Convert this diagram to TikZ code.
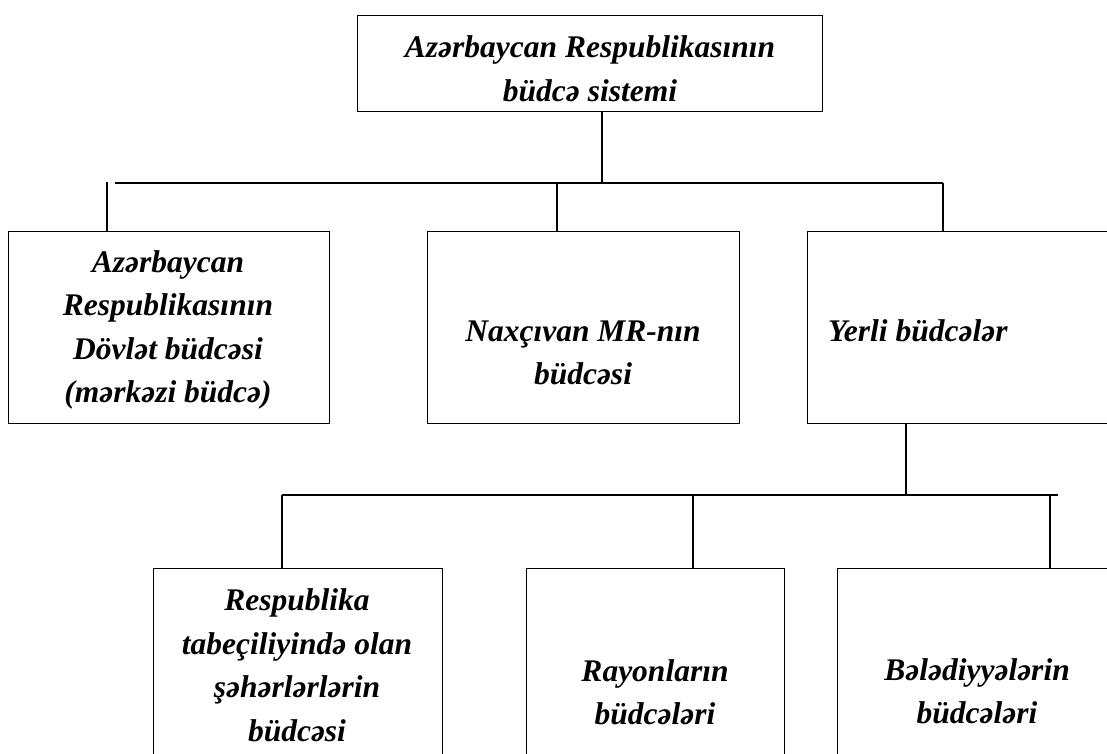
\documentclass[tikz,border=0pt]{standalone}
\usepackage{fontspec}
\setmainfont{Liberation Serif}[BoldItalicFont={Liberation Serif Bold Italic}]
\begin{document}
\begin{tikzpicture}[x=1pt,y=-1pt,
  box/.style={draw, line width=1.4pt, inner sep=0pt, anchor=north west},
  lbl/.style={font=\fontsize{31.5}{43.5}\selectfont\bfseries\itshape, align=center, inner sep=0pt},
  conn/.style={line width=1.4pt}]
\useasboundingbox (0,0) rectangle (1107,754);
\clip (0,0) rectangle (1107,754);
% boxes
\node[box, minimum width=465pt, minimum height=96pt] (top) at (357,15) {};
\node[box, minimum width=321pt, minimum height=192pt] (b1) at (8,231) {};
\node[box, minimum width=312pt, minimum height=192pt] (b2) at (427,231) {};
\node[box, minimum width=320pt, minimum height=192pt] (b3) at (807,231) {};
\node[box, minimum width=289pt, minimum height=200pt] (b4) at (153,568) {};
\node[box, minimum width=258pt, minimum height=200pt] (b5) at (526,568) {};
\node[box, minimum width=280pt, minimum height=200pt] (b6) at (837,568) {};
% labels
\node[lbl] (t0) at (590,69) {Azərbaycan Respublikasının\\büdcə sistemi};
\node[lbl] (t1) at (168,330) {Azərbaycan\\Respublikasının\\Dövlət büdcəsi\\(mərkəzi büdcə)};
\node[lbl] (t2) at (583,353) {Naxçıvan MR-nın\\büdcəsi};
\node[lbl, anchor=west] (t3) at (828,331) {Yerli büdcələr};
\node[lbl] (t4) at (297,665) {Respublika\\tabeçiliyində olan\\şəhərlərlərin\\büdcəsi};
\node[lbl] (t5) at (655,692) {Rayonların\\büdcələri};
\node[lbl] (t6) at (977,691) {Bələdiyyələrin\\büdcələri};
% junction coordinates
\coordinate (j0) at (602,183);
\coordinate (bl) at (115,183);
\coordinate (br) at (943,183);
\coordinate (d1) at (107,182);
\coordinate (d2) at (557,183);
\coordinate (j3) at (906,495);
\coordinate (cl) at (282,495);
\coordinate (cr) at (1058,495);
\coordinate (e5) at (693,495);
\coordinate (e6) at (1050,495);
% connectors
\draw[conn] (top.south -| j0) -- (j0);
\draw[conn] (bl) -- (br);
\draw[conn] (d1) -- (b1.north -| d1);
\draw[conn] (d2) -- (b2.north -| d2);
\draw[conn] (br) -- (b3.north -| br);
\draw[conn] (b3.south -| j3) -- (j3);
\draw[conn] (cl) -- (cr);
\draw[conn] (cl) -- (b4.north -| cl);
\draw[conn] (e5) -- (b5.north -| e5);
\draw[conn] (e6) -- (b6.north -| e6);
\end{tikzpicture}
\end{document}
